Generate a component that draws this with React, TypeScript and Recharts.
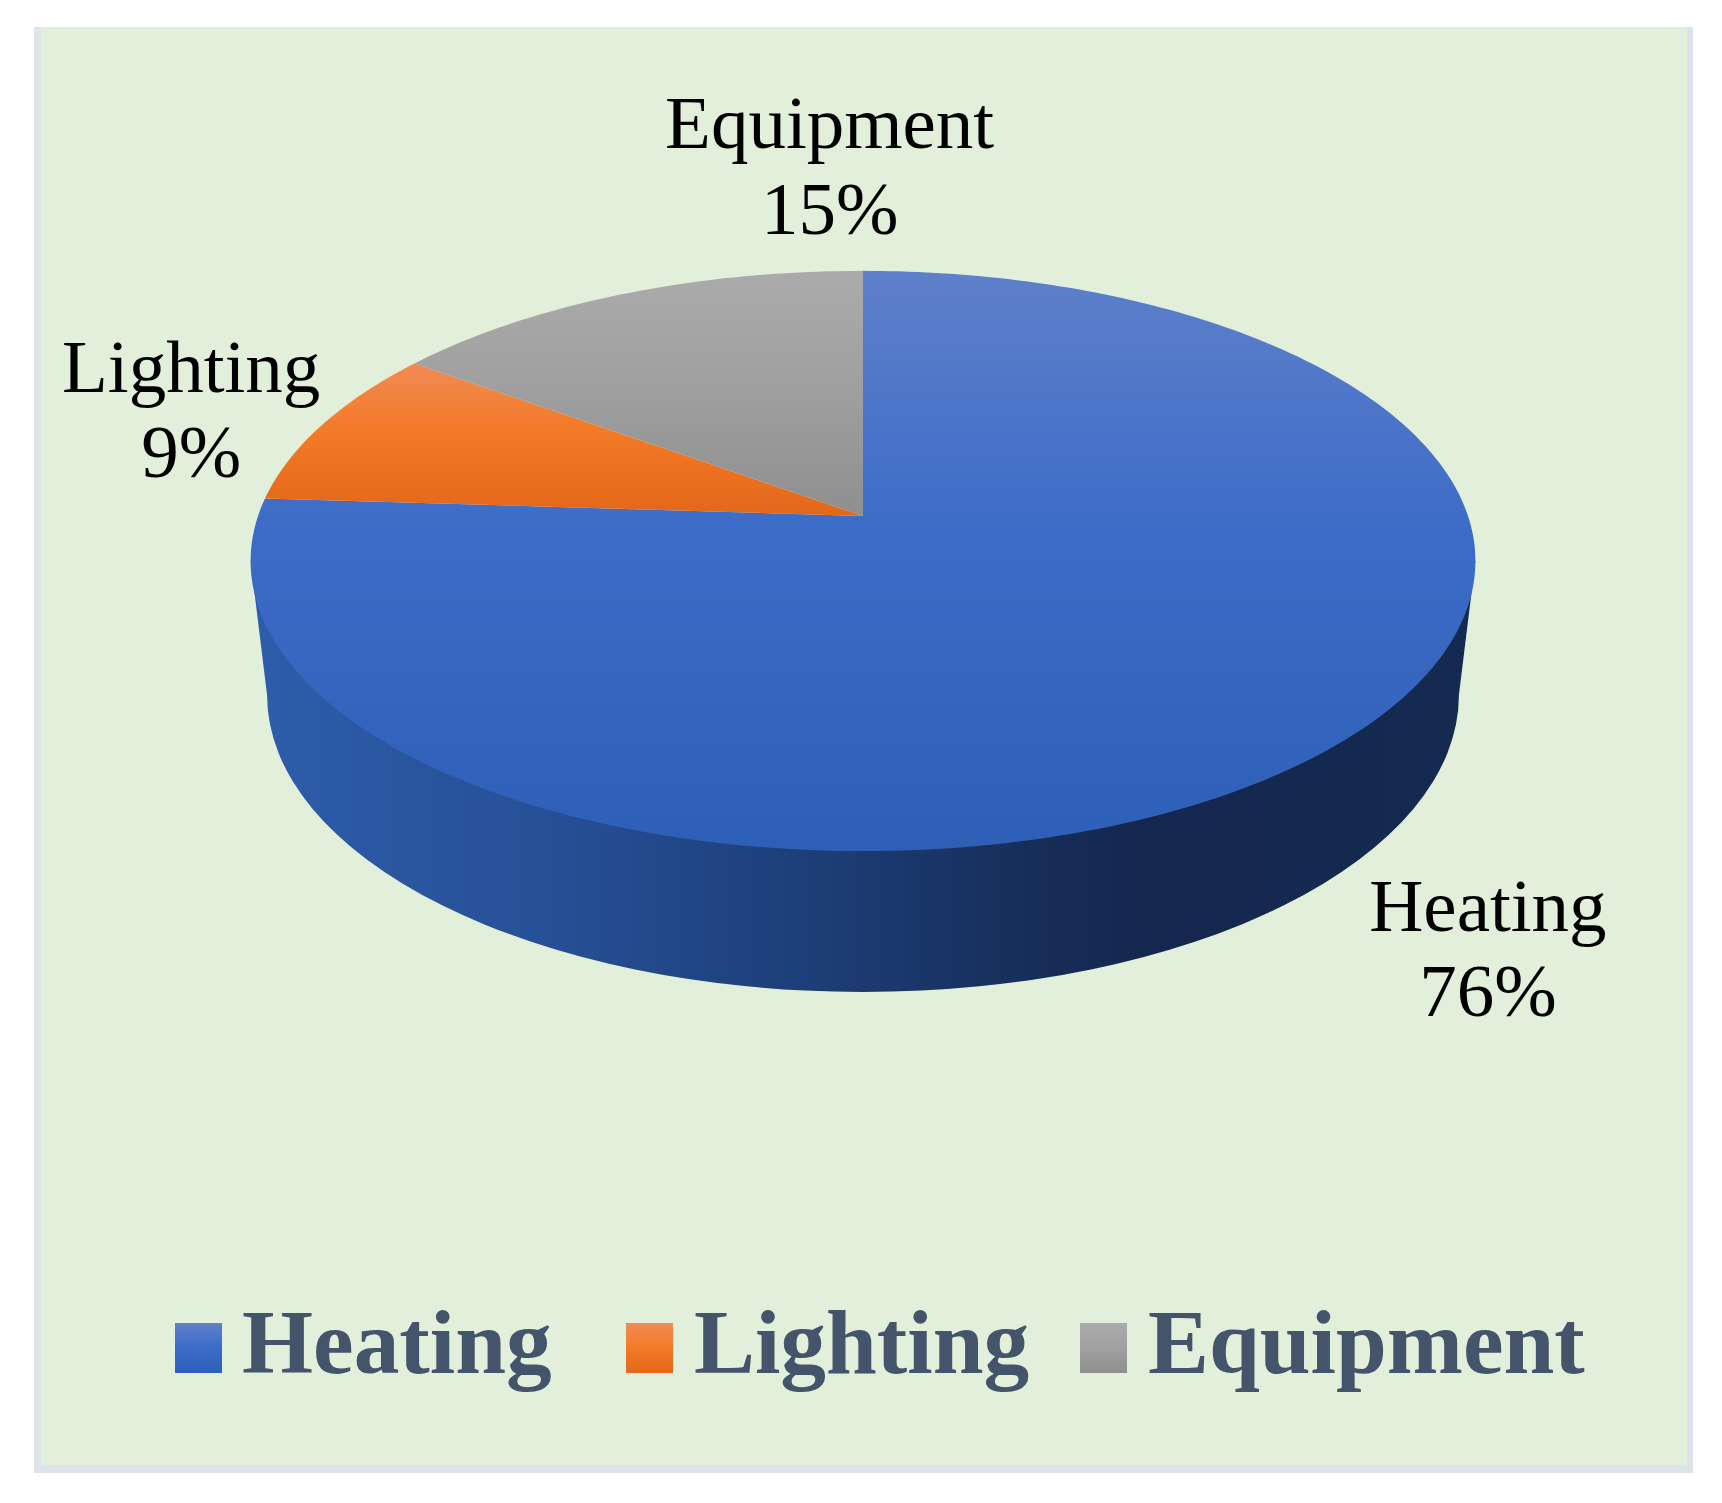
import React from "react";
import { PieChart, Pie, Cell, Legend } from "recharts";

const CATEGORIES = ["Heating", "Lighting", "Equipment"];
const VALUES = [76, 9, 15];
// top, middle, bottom of each slice's shading
const GRADIENTS = [
  ["#5f80ca", "#3c6cc7", "#2e5fb7"],
  ["#f08b55", "#f37a26", "#e3671a"],
  ["#ababab", "#a0a0a0", "#8f8f8f"],
];
const SIDE_STOPS = [
  [0, "#2e5dab"],
  [0.25, "#264f95"],
  [0.45, "#1d3f79"],
  [0.62, "#172f5c"],
  [0.72, "#14284f"],
  [1, "#152a50"],
];

const data = CATEGORIES.map((name, i) => ({ name, value: VALUES[i] }));

const WIDTH = 1722;
const HEIGHT = 1503;
const RADIAN = Math.PI / 180;

// the pie is a tilted disc: the hub sits above the ellipse centre
const TILT = 0.155;
const DEPTH = 0.468;
const LOWER = { rx: 0.985, ry: 0.491, dy: 179 };

const LABEL_FONT = 75;
const LABEL_LINE = 85.5;
const LABEL_OFFSETS = [
  [158, 182],
  [-131, -33],
  [208, -146],
];
const LEGEND_X = [175, 626, 1080];

const rimPoint = (cx: number, cy: number, r: number, angle: number) => {
  const u = Math.cos(angle * RADIAN);
  const v = Math.sin(angle * RADIAN);
  const w = 1 + TILT * v;
  return [cx + (r * u) / w, cy - (r * DEPTH * v) / w];
};

const renderSlice = (props: any) => {
  const { cx, cy, outerRadius, startAngle, endAngle, fill } = props;
  const steps = Math.max(8, Math.ceil(Math.abs(endAngle - startAngle)));
  let d = `M${cx},${cy}`;
  for (let i = 0; i <= steps; i++) {
    const a = startAngle + ((endAngle - startAngle) * i) / steps;
    const [x, y] = rimPoint(cx, cy, outerRadius, a);
    d += `L${x.toFixed(2)},${y.toFixed(2)}`;
  }
  d += "Z";

  // only the slice that reaches the front of the disc shows a side wall
  const low = Math.min(startAngle, endAngle);
  const high = Math.max(startAngle, endAngle);
  const hasWall = low <= -90 && high >= -90;
  const edge = outerRadius / Math.sqrt(1 - TILT * TILT);
  const midY = cy + (outerRadius * DEPTH * TILT) / (1 - TILT * TILT);
  const lowerY = cy + LOWER.dy;
  const rx = outerRadius * LOWER.rx;
  const ry = outerRadius * LOWER.ry;

  return (
    <g>
      {hasWall && (
        <path
          fill="url(#sideWall)"
          d={`M${cx - edge},${midY}L${cx - rx},${lowerY}A${rx},${ry} 0 0 0 ${cx + rx},${lowerY}L${cx + edge},${midY}Z`}
        />
      )}
      <path d={d} fill={fill} />
    </g>
  );
};

const renderLabel = (props: any) => {
  const { cx, cy, outerRadius, midAngle, percent, name, index } = props;
  const [x, y] = rimPoint(cx, cy, outerRadius, midAngle);
  const tx = x + LABEL_OFFSETS[index][0];
  const ty = y + LABEL_OFFSETS[index][1];
  return (
    <text
      x={tx}
      y={ty}
      textAnchor="middle"
      fill="#000000"
      fontFamily="'Liberation Serif', serif"
      fontSize={LABEL_FONT}
    >
      <tspan x={tx}>{name}</tspan>
      <tspan x={tx} dy={LABEL_LINE}>{`${Math.round(percent * 100)}%`}</tspan>
    </text>
  );
};

const renderLegend = (props: any) => (
  <div style={{ position: "relative", height: 120 }}>
    {(props.payload || []).map((entry: any, i: number) => (
      <div
        key={entry.value}
        style={{ position: "absolute", left: LEGEND_X[i], top: 0, whiteSpace: "nowrap" }}
      >
        <div
          style={{
            position: "absolute",
            left: 0,
            top: 33,
            width: 47,
            height: 50,
            background: `linear-gradient(${GRADIENTS[i].join(",")})`,
          }}
        />
        <span
          style={{
            position: "absolute",
            left: i === 0 ? 67 : 68,
            top: 0,
            fontFamily: "'Liberation Serif', serif",
            fontWeight: 700,
            fontSize: 91.4,
            lineHeight: "105px",
            color: "#44546a",
          }}
        >
          {entry.value}
        </span>
      </div>
    ))}
  </div>
);

export default function App() {
  return (
    <div style={{ position: "absolute", left: 0, top: 0, width: WIDTH, height: HEIGHT, background: "#ffffff" }}>
      <div
        style={{
          position: "absolute",
          left: 34,
          top: 27,
          width: 1659,
          height: 1446,
          background: "#dee3ea",
        }}
      />
      <div
        style={{
          position: "absolute",
          left: 41,
          top: 27,
          width: 1646,
          height: 1438,
          background: "#e2efda",
        }}
      />
      <div style={{ position: "absolute", left: 0, top: 0 }}>
        <PieChart width={WIDTH} height={HEIGHT} margin={{ top: 0, right: 0, bottom: 0, left: 0 }}>
          <defs>
            {GRADIENTS.map((stops, i) => (
              <linearGradient key={i} id={`slice${i}`} x1="0" y1="0" x2="0" y2="1">
                <stop offset="0" stopColor={stops[0]} />
                <stop offset="0.45" stopColor={stops[1]} />
                <stop offset="1" stopColor={stops[2]} />
              </linearGradient>
            ))}
            <linearGradient id="sideWall" x1="0" y1="0" x2="1" y2="0">
              {SIDE_STOPS.map(([offset, color]) => (
                <stop key={offset} offset={offset} stopColor={color as string} />
              ))}
            </linearGradient>
          </defs>
          <Pie
            data={data}
            dataKey="value"
            nameKey="name"
            cx={863}
            cy={516}
            innerRadius={0}
            outerRadius={605}
            startAngle={90}
            endAngle={-270}
            stroke="none"
            labelLine={false}
            label={renderLabel}
            shape={renderSlice}
            isAnimationActive={false}
          >
            {data.map((entry, index) => (
              <Cell key={`cell-${index}`} fill={`url(#slice${index})`} />
            ))}
          </Pie>
          <Legend
            content={renderLegend}
            itemSorter={null}
            wrapperStyle={{ position: "absolute", left: 0, top: 1290, width: WIDTH, bottom: "auto" }}
          />
        </PieChart>
      </div>
    </div>
  );
}
